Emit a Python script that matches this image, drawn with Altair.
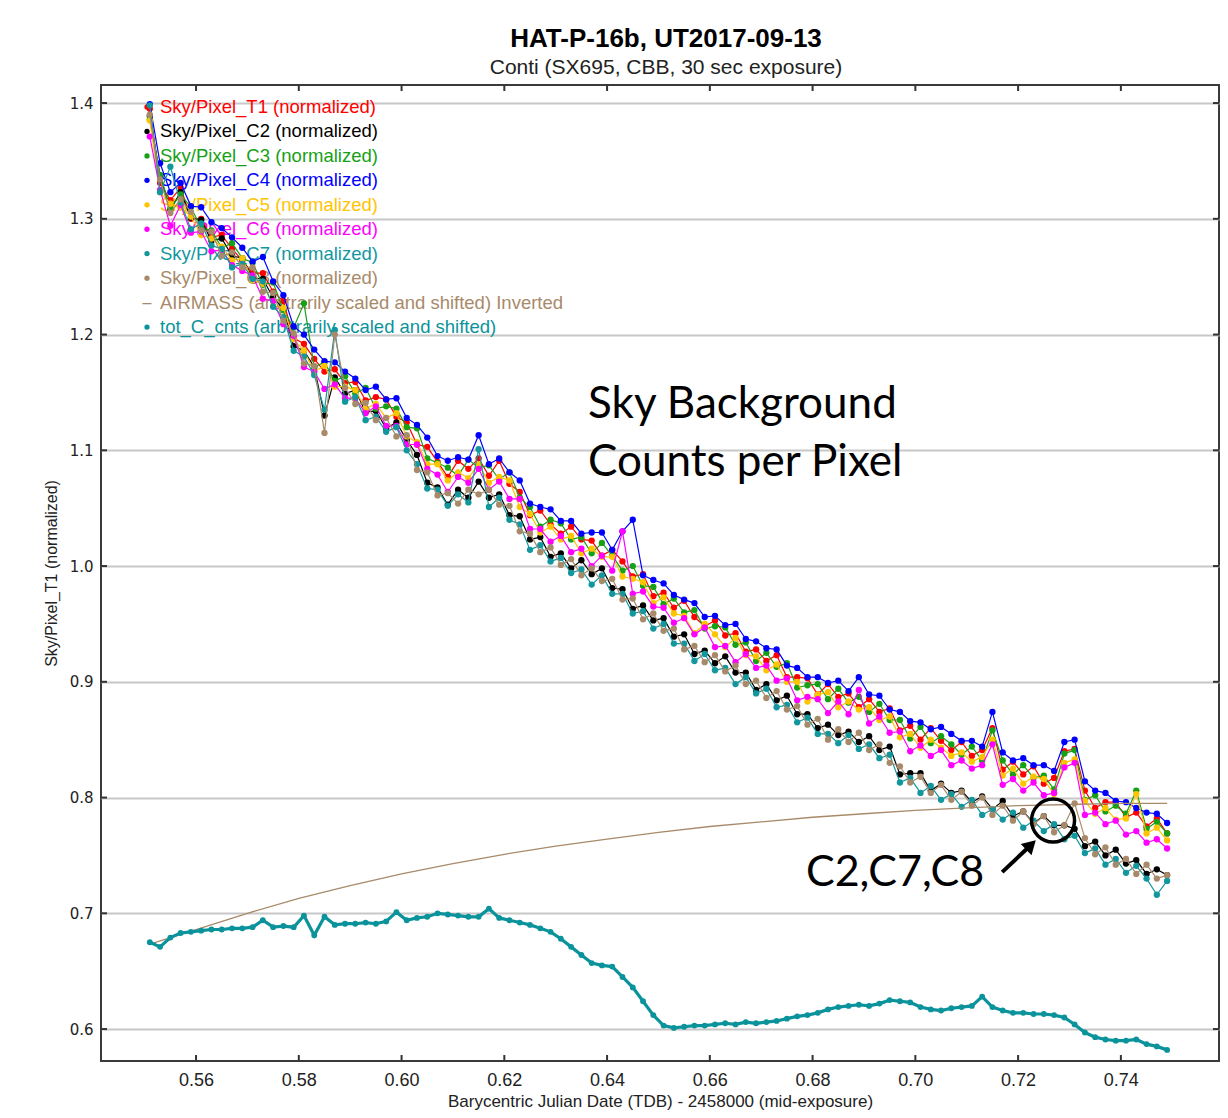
import altair as alt
import pandas as pd

TITLE = "HAT-P-16b, UT2017-09-13"
SUBTITLE = "Conti (SX695, CBB, 30 sec exposure)"
X_TITLE = "Barycentric Julian Date (TDB) - 2458000 (mid-exposure)"
Y_TITLE = "Sky/Pixel_T1 (normalized)"

X_TICKS = [0.56, 0.58, 0.60, 0.62, 0.64, 0.66, 0.68, 0.70, 0.72, 0.74]
Y_TICKS = [0.6, 0.7, 0.8, 0.9, 1.0, 1.1, 1.2, 1.3, 1.4]

TIME = [0.551, 0.553, 0.555, 0.557, 0.559, 0.561, 0.563, 0.565, 0.567, 0.569,
        0.571, 0.573, 0.575, 0.577, 0.579, 0.581, 0.583, 0.585, 0.587, 0.589,
        0.591, 0.593, 0.595, 0.597, 0.599, 0.601, 0.603, 0.605, 0.607, 0.609,
        0.611, 0.613, 0.615, 0.617, 0.619, 0.621, 0.623, 0.625, 0.627, 0.629,
        0.631, 0.633, 0.635, 0.637, 0.639, 0.641, 0.643, 0.645, 0.647, 0.649,
        0.651, 0.653, 0.655, 0.657, 0.659, 0.661, 0.663, 0.665, 0.667, 0.669,
        0.671, 0.673, 0.675, 0.677, 0.679, 0.681, 0.683, 0.685, 0.687, 0.689,
        0.691, 0.693, 0.695, 0.697, 0.699, 0.701, 0.703, 0.705, 0.707, 0.709,
        0.711, 0.713, 0.715, 0.717, 0.719, 0.721, 0.723, 0.725, 0.727, 0.729,
        0.731, 0.733, 0.735, 0.737, 0.739, 0.741, 0.743, 0.745, 0.747, 0.749]

SKY_T1 = [1.395, 1.331, 1.316, 1.327, 1.300, 1.300, 1.284, 1.286, 1.274, 1.264,
          1.253, 1.253, 1.237, 1.229, 1.197, 1.192, 1.179, 1.168, 1.170, 1.158,
          1.159, 1.143, 1.146, 1.144, 1.129, 1.124, 1.105, 1.103, 1.090, 1.077,
          1.091, 1.084, 1.093, 1.078, 1.091, 1.071, 1.064, 1.044, 1.048, 1.036,
          1.028, 1.034, 1.023, 1.022, 1.009, 1.014, 1.004, 0.991, 0.993, 0.974,
          0.977, 0.964, 0.970, 0.956, 0.948, 0.953, 0.940, 0.942, 0.926, 0.928,
          0.918, 0.923, 0.904, 0.904, 0.903, 0.889, 0.898, 0.887, 0.890, 0.878,
          0.885, 0.874, 0.877, 0.858, 0.862, 0.850, 0.860, 0.849, 0.841, 0.848,
          0.836, 0.841, 0.860, 0.824, 0.831, 0.820, 0.827, 0.812, 0.817, 0.840,
          0.842, 0.806, 0.791, 0.796, 0.796, 0.783, 0.787, 0.775, 0.782, 0.769]

SKY_C2 = [1.389, 1.337, 1.308, 1.323, 1.301, 1.299, 1.281, 1.283, 1.268, 1.266,
          1.249, 1.248, 1.232, 1.222, 1.190, 1.186, 1.172, 1.130, 1.163, 1.149,
          1.152, 1.133, 1.134, 1.119, 1.124, 1.109, 1.096, 1.072, 1.068, 1.053,
          1.066, 1.059, 1.073, 1.059, 1.062, 1.044, 1.043, 1.023, 1.025, 1.008,
          1.011, 0.998, 1.005, 0.993, 0.998, 0.981, 0.980, 0.963, 0.966, 0.953,
          0.955, 0.939, 0.941, 0.924, 0.927, 0.916, 0.922, 0.908, 0.908, 0.893,
          0.898, 0.884, 0.888, 0.872, 0.872, 0.860, 0.863, 0.854, 0.857, 0.848,
          0.853, 0.841, 0.844, 0.820, 0.821, 0.821, 0.806, 0.812, 0.804, 0.806,
          0.796, 0.801, 0.790, 0.797, 0.784, 0.788, 0.778, 0.784, 0.776, 0.776,
          0.773, 0.758, 0.762, 0.750, 0.755, 0.743, 0.746, 0.734, 0.738, 0.733]

SKY_C3 = [1.386, 1.338, 1.309, 1.321, 1.310, 1.292, 1.290, 1.275, 1.279, 1.266,
          1.262, 1.243, 1.245, 1.221, 1.206, 1.227, 1.172, 1.176, 1.160, 1.164,
          1.149, 1.154, 1.136, 1.138, 1.136, 1.120, 1.119, 1.093, 1.089, 1.085,
          1.078, 1.092, 1.085, 1.087, 1.075, 1.081, 1.059, 1.051, 1.034, 1.040,
          1.037, 1.023, 1.025, 1.011, 1.020, 1.009, 0.996, 1.000, 0.983, 0.982,
          0.967, 0.972, 0.960, 0.962, 0.946, 0.948, 0.947, 0.932, 0.934, 0.918,
          0.925, 0.913, 0.916, 0.895, 0.897, 0.898, 0.885, 0.894, 0.882, 0.887,
          0.874, 0.881, 0.867, 0.867, 0.851, 0.861, 0.847, 0.853, 0.846, 0.837,
          0.844, 0.832, 0.858, 0.832, 0.820, 0.828, 0.817, 0.819, 0.807, 0.838,
          0.841, 0.798, 0.802, 0.788, 0.793, 0.786, 0.806, 0.773, 0.779, 0.769]

SKY_C4 = [1.399, 1.348, 1.323, 1.331, 1.311, 1.310, 1.297, 1.292, 1.284, 1.275,
          1.263, 1.267, 1.246, 1.234, 1.207, 1.200, 1.187, 1.177, 1.176, 1.168,
          1.162, 1.152, 1.155, 1.144, 1.145, 1.128, 1.122, 1.111, 1.095, 1.091,
          1.094, 1.092, 1.113, 1.088, 1.093, 1.081, 1.074, 1.054, 1.051, 1.049,
          1.039, 1.039, 1.028, 1.029, 1.029, 1.014, 1.030, 1.040, 0.992, 0.988,
          0.985, 0.975, 0.971, 0.968, 0.956, 0.957, 0.949, 0.950, 0.937, 0.935,
          0.929, 0.928, 0.914, 0.912, 0.904, 0.904, 0.899, 0.901, 0.892, 0.904,
          0.889, 0.888, 0.876, 0.874, 0.866, 0.865, 0.859, 0.861, 0.855, 0.849,
          0.849, 0.844, 0.874, 0.839, 0.832, 0.834, 0.828, 0.828, 0.823, 0.848,
          0.850, 0.814, 0.806, 0.804, 0.797, 0.796, 0.791, 0.787, 0.786, 0.778]

SKY_C5 = [1.385, 1.323, 1.313, 1.310, 1.302, 1.286, 1.283, 1.276, 1.264, 1.266,
          1.247, 1.244, 1.225, 1.223, 1.196, 1.186, 1.168, 1.173, 1.155, 1.155,
          1.152, 1.136, 1.140, 1.128, 1.132, 1.112, 1.107, 1.088, 1.088, 1.074,
          1.081, 1.076, 1.088, 1.072, 1.077, 1.074, 1.051, 1.045, 1.029, 1.034,
          1.023, 1.026, 1.011, 1.015, 1.008, 1.008, 0.991, 0.989, 0.986, 0.968,
          0.973, 0.959, 0.957, 0.942, 0.950, 0.941, 0.930, 0.938, 0.923, 0.922,
          0.910, 0.915, 0.900, 0.900, 0.883, 0.889, 0.891, 0.878, 0.883, 0.876,
          0.878, 0.867, 0.870, 0.852, 0.855, 0.843, 0.850, 0.843, 0.836, 0.839,
          0.831, 0.835, 0.850, 0.819, 0.825, 0.812, 0.818, 0.816, 0.803, 0.830,
          0.833, 0.797, 0.786, 0.791, 0.781, 0.782, 0.803, 0.769, 0.774, 0.763]

SKY_C6 = [1.371, 1.325, 1.294, 1.312, 1.288, 1.289, 1.272, 1.273, 1.260, 1.255,
          1.251, 1.231, 1.229, 1.209, 1.199, 1.172, 1.168, 1.153, 1.157, 1.145,
          1.145, 1.132, 1.138, 1.121, 1.121, 1.105, 1.105, 1.084, 1.079, 1.064,
          1.077, 1.072, 1.084, 1.066, 1.073, 1.058, 1.058, 1.032, 1.032, 1.021,
          1.026, 1.012, 1.015, 1.000, 1.009, 0.996, 1.030, 0.976, 0.978, 0.965,
          0.964, 0.951, 0.955, 0.941, 0.947, 0.930, 0.931, 0.917, 0.924, 0.912,
          0.914, 0.901, 0.903, 0.884, 0.887, 0.885, 0.873, 0.883, 0.872, 0.893,
          0.864, 0.870, 0.856, 0.857, 0.840, 0.845, 0.836, 0.841, 0.828, 0.832,
          0.825, 0.828, 0.846, 0.811, 0.816, 0.806, 0.813, 0.802, 0.804, 0.826,
          0.830, 0.785, 0.787, 0.777, 0.780, 0.768, 0.771, 0.761, 0.764, 0.756]

SKY_C7 = [1.398, 1.323, 1.345, 1.314, 1.291, 1.296, 1.277, 1.274, 1.258, 1.261,
          1.248, 1.246, 1.224, 1.215, 1.186, 1.181, 1.165, 1.135, 1.204, 1.142,
          1.146, 1.126, 1.129, 1.116, 1.120, 1.100, 1.088, 1.067, 1.066, 1.052,
          1.062, 1.055, 1.101, 1.051, 1.059, 1.040, 1.036, 1.014, 1.018, 1.004,
          1.007, 0.994, 0.997, 0.984, 0.992, 0.976, 0.976, 0.959, 0.961, 0.946,
          0.950, 0.933, 0.933, 0.918, 0.924, 0.910, 0.912, 0.898, 0.904, 0.890,
          0.894, 0.878, 0.880, 0.865, 0.869, 0.855, 0.855, 0.847, 0.854, 0.842,
          0.846, 0.834, 0.837, 0.813, 0.817, 0.804, 0.810, 0.798, 0.803, 0.792,
          0.798, 0.785, 0.790, 0.781, 0.787, 0.774, 0.780, 0.771, 0.777, 0.764,
          0.767, 0.752, 0.756, 0.742, 0.747, 0.735, 0.741, 0.730, 0.716, 0.728]

SKY_C8 = [1.390, 1.334, 1.305, 1.317, 1.306, 1.290, 1.289, 1.268, 1.271, 1.258,
          1.258, 1.237, 1.236, 1.212, 1.201, 1.175, 1.173, 1.115, 1.200, 1.154,
          1.140, 1.141, 1.126, 1.128, 1.112, 1.113, 1.083, 1.081, 1.061, 1.063,
          1.054, 1.066, 1.062, 1.066, 1.053, 1.052, 1.030, 1.028, 1.012, 1.016,
          1.001, 1.006, 0.992, 0.998, 0.987, 0.989, 0.971, 0.972, 0.954, 0.959,
          0.944, 0.946, 0.928, 0.931, 0.917, 0.923, 0.909, 0.914, 0.898, 0.901,
          0.886, 0.892, 0.876, 0.879, 0.863, 0.868, 0.850, 0.859, 0.848, 0.856,
          0.841, 0.846, 0.830, 0.827, 0.813, 0.818, 0.804, 0.811, 0.798, 0.805,
          0.793, 0.800, 0.785, 0.793, 0.780, 0.788, 0.777, 0.784, 0.770, 0.776,
          0.795, 0.765, 0.751, 0.757, 0.742, 0.747, 0.734, 0.742, 0.730, 0.733]

TOT_C_CNTS = [0.675, 0.671, 0.679, 0.683, 0.684, 0.685, 0.686, 0.686, 0.687, 0.687,
              0.688, 0.694, 0.688, 0.689, 0.688, 0.698, 0.681, 0.697, 0.690, 0.691,
              0.691, 0.692, 0.691, 0.693, 0.701, 0.694, 0.696, 0.697, 0.700, 0.699,
              0.698, 0.697, 0.697, 0.704, 0.696, 0.694, 0.692, 0.690, 0.687, 0.684,
              0.678, 0.671, 0.664, 0.657, 0.655, 0.654, 0.645, 0.636, 0.624, 0.612,
              0.603, 0.601, 0.602, 0.603, 0.603, 0.604, 0.605, 0.604, 0.606, 0.605,
              0.606, 0.607, 0.609, 0.611, 0.612, 0.614, 0.617, 0.619, 0.620, 0.621,
              0.620, 0.622, 0.625, 0.624, 0.623, 0.619, 0.617, 0.616, 0.618, 0.619,
              0.620, 0.628, 0.619, 0.616, 0.614, 0.614, 0.613, 0.613, 0.612, 0.610,
              0.604, 0.597, 0.593, 0.591, 0.590, 0.590, 0.591, 0.587, 0.585, 0.582]

AIRMASS_TIME = [0.5515, 0.56, 0.57, 0.58, 0.59, 0.60, 0.61, 0.62, 0.63, 0.64, 0.65,
                0.66, 0.67, 0.68, 0.69, 0.70, 0.71, 0.72, 0.73, 0.74, 0.749]
AIRMASS = [0.674, 0.686, 0.700, 0.713, 0.724, 0.734, 0.743, 0.751, 0.758, 0.764, 0.770,
           0.775, 0.779, 0.783, 0.786, 0.789, 0.791, 0.793, 0.794, 0.795, 0.795]

SERIES = ["Sky/Pixel_T1", "Sky/Pixel_C2", "Sky/Pixel_C3", "Sky/Pixel_C4",
          "Sky/Pixel_C5", "Sky/Pixel_C6", "Sky/Pixel_C7", "Sky/Pixel_C8"]
SERIES_VALUES = [SKY_T1, SKY_C2, SKY_C3, SKY_C4, SKY_C5, SKY_C6, SKY_C7, SKY_C8]
SERIES_COLORS = ["#ff0000", "#000000", "#16a016", "#0000ff",
                 "#ffc400", "#ff00ff", "#12979f", "#a88a6a"]
AIRMASS_COLOR = "#a88a6a"
TOTC_COLOR = "#0b939c"

LEGEND_LABELS = [s + " (normalized)" for s in SERIES] + [
    "AIRMASS (arbitrarily scaled and shifted) Inverted",
    "tot_C_cnts (arbitrarily scaled and shifted)"]
LEGEND_COLORS = SERIES_COLORS + [AIRMASS_COLOR, TOTC_COLOR]

ANNOT_MAIN = "Sky Background\nCounts per Pixel"
ANNOT_MAIN_POS = (0.6363, 1.1279)
ANNOT_CMP = "C2,C7,C8"
ANNOT_CMP_POS = (0.6787, 0.7235)
ARROW = (0.7169, 0.7356, 0.7225, 0.7590)
CIRCLE_POS = (0.7268, 0.7801)

W, H = 1118, 976
XDOM = [0.5415, 0.7591]
YDOM = [0.5724, 1.4156]
FONT = "Liberation Sans"

xs = alt.Scale(domain=XDOM, nice=False, zero=False)
ys = alt.Scale(domain=YDOM, nice=False, zero=False)
X_AX = alt.Axis(values=X_TICKS, format=".2f", ticks=False, domain=False, grid=False,
                labelFont=FONT, labelFontSize=18, labelColor="#222222", labelPadding=10,
                labelFlush=False, titleFont=FONT, titleFontSize=17, titleFontWeight="normal",
                titleColor="#222222", titlePadding=4)
Y_AX = alt.Axis(values=Y_TICKS, format=".1f", ticks=False, domain=False, grid=True,
                gridColor="#c8c8c8", gridWidth=2, labelFont="DejaVu Sans", labelFontSize=15,
                labelColor="#222222", labelPadding=8, labelFlush=False,
                titleFont=FONT, titleFontSize=16, titleFontWeight="normal",
                titleColor="#222222", titlePadding=10)

X_ENC = alt.X("t:Q", scale=xs, axis=X_AX, title=X_TITLE)
Y_ENC = alt.Y("v:Q", scale=ys, axis=Y_AX, title=Y_TITLE)

layers = []

# legend (drawn first, the data overlaps it)
for i, (lab, col) in enumerate(zip(LEGEND_LABELS, LEGEND_COLORS)):
    ypix = 22 + 24.45 * i
    one = pd.DataFrame({"label": [lab], "sym": ["\u2013"]})
    layers.append(alt.Chart(one).mark_text(align="left", baseline="middle", font=FONT,
                                           fontSize=18.5, color=col)
                  .encode(x=alt.value(59), y=alt.value(ypix), text="label:N"))
    if lab.startswith("AIRMASS"):
        layers.append(alt.Chart(one).mark_text(align="center", baseline="middle", font=FONT,
                                               fontSize=16, color=col)
                      .encode(x=alt.value(46), y=alt.value(ypix), text="sym:N"))
    else:
        layers.append(alt.Chart(one).mark_circle(size=28, color=col, opacity=1)
                      .encode(x=alt.value(46), y=alt.value(ypix)))

# sky series
for name, vals, col in zip(SERIES, SERIES_VALUES, SERIES_COLORS):
    df = pd.DataFrame({"t": TIME, "v": vals})
    layers.append(alt.Chart(df).mark_line(strokeWidth=1.2, color=col)
                  .encode(x=X_ENC, y=Y_ENC))
    layers.append(alt.Chart(df).mark_circle(size=40, color=col, opacity=1)
                  .encode(x=X_ENC, y=Y_ENC))

# airmass
am = pd.DataFrame({"t": AIRMASS_TIME, "v": AIRMASS})
layers.append(alt.Chart(am).mark_line(strokeWidth=1.3, color=AIRMASS_COLOR)
              .encode(x=X_ENC, y=Y_ENC))

# tot_C_cnts
tc = pd.DataFrame({"t": TIME, "v": TOT_C_CNTS})
layers.append(alt.Chart(tc).mark_line(strokeWidth=3.2, color=TOTC_COLOR)
              .encode(x=X_ENC, y=Y_ENC))
layers.append(alt.Chart(tc).mark_circle(size=34, color=TOTC_COLOR, opacity=1)
              .encode(x=X_ENC, y=Y_ENC))

# inward ticks
xt = pd.DataFrame({"t": X_TICKS})
yt = pd.DataFrame({"v": Y_TICKS})
TICK_COL = "#333333"
layers.append(alt.Chart(xt).mark_rule(color=TICK_COL, strokeWidth=2)
              .encode(x=X_ENC, y=alt.value(H), y2=alt.value(H - 6)))
layers.append(alt.Chart(xt).mark_rule(color=TICK_COL, strokeWidth=2)
              .encode(x=X_ENC, y=alt.value(0), y2=alt.value(6)))
layers.append(alt.Chart(yt).mark_rule(color=TICK_COL, strokeWidth=2)
              .encode(y=Y_ENC, x=alt.value(0), x2=alt.value(6)))
layers.append(alt.Chart(yt).mark_rule(color=TICK_COL, strokeWidth=2)
              .encode(y=Y_ENC, x=alt.value(W), x2=alt.value(W - 6)))

# annotations
a1 = pd.DataFrame({"t": [ANNOT_MAIN_POS[0]], "v": [ANNOT_MAIN_POS[1]], "label": [ANNOT_MAIN]})
layers.append(alt.Chart(a1).mark_text(align="left", baseline="alphabetic", font="Lato",
                                      fontSize=44, lineBreak="\n", lineHeight=58, color="black")
              .encode(x=X_ENC, y=Y_ENC, text="label:N"))
a2 = pd.DataFrame({"t": [ANNOT_CMP_POS[0]], "v": [ANNOT_CMP_POS[1]], "label": [ANNOT_CMP]})
layers.append(alt.Chart(a2).mark_text(align="left", baseline="alphabetic", font="Lato",
                                      fontSize=43, color="black")
              .encode(x=X_ENC, y=Y_ENC, text="label:N"))
ar = pd.DataFrame({"t": [ARROW[0]], "v": [ARROW[1]], "t2": [ARROW[2]], "v2": [ARROW[3]]})
layers.append(alt.Chart(ar).mark_rule(color="black", strokeWidth=4)
              .encode(x=X_ENC, y=Y_ENC, x2="t2:Q", y2="v2:Q"))
ah = pd.DataFrame({"t": [ARROW[2]], "v": [ARROW[3]]})
layers.append(alt.Chart(ah).mark_point(shape="triangle-up", filled=True, size=240, angle=46,
                                       color="black", opacity=1)
              .encode(x=X_ENC, y=Y_ENC))
ci = pd.DataFrame({"t": [CIRCLE_POS[0]], "v": [CIRCLE_POS[1]]})
layers.append(alt.Chart(ci).mark_point(shape="circle", filled=False, size=1849, strokeWidth=3.5,
                                       color="black", opacity=1)
              .encode(x=X_ENC, y=Y_ENC))

chart = alt.layer(*layers).properties(
    width=W, height=H,
    title=alt.TitleParams(TITLE, subtitle=SUBTITLE, font=FONT, fontSize=26, fontWeight="bold",
                          color="black", subtitleFont=FONT, subtitleFontSize=21,
                          subtitleColor="#222222", anchor="middle", offset=6,
                          subtitlePadding=5, dx=6),
    autosize=alt.AutoSizeParams(type="none"),
    padding={"left": 93, "top": 77, "right": 1, "bottom": 49},
    background="white",
).configure_view(stroke="#3a3a3a", strokeWidth=2)

chart.save("out.html", embed_options={"renderer": "svg", "actions": False})
